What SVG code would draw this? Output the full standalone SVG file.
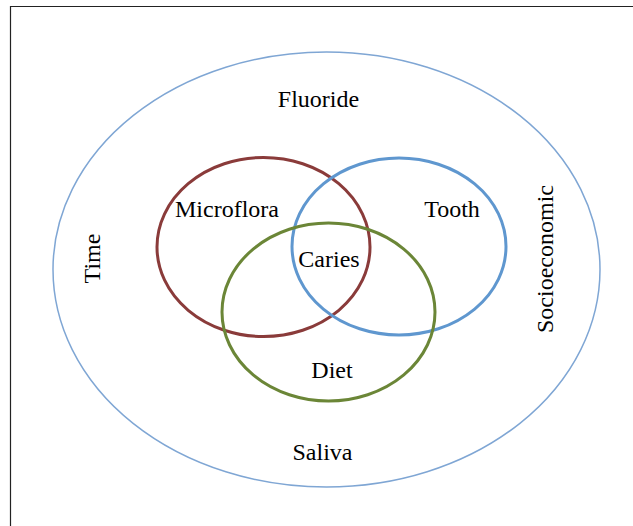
<svg xmlns="http://www.w3.org/2000/svg" width="633" height="526" viewBox="0 0 633 526">
<style>
.lbl{font-family:"Liberation Serif","Times New Roman",serif;font-size:24px;fill:#000;text-anchor:middle}
.ring{fill:none;stroke-width:3}
</style>
<rect width="633" height="526" fill="#fff"/>
<g id="frame" fill="none" stroke="#222" stroke-width="1.2">
<path d="M10.5,526 V6.5 H633"/>
</g>
<g id="outer">
<ellipse cx="326.5" cy="269.5" rx="273.5" ry="217.5" fill="none" stroke="#7fa6d4" stroke-width="1.5"/>
<text class="lbl" x="318.5" y="107">Fluoride</text>
<text class="lbl" x="322.5" y="460">Saliva</text>
<text class="lbl" transform="translate(100,258.5) rotate(-90)">Time</text>
<text class="lbl" transform="translate(553,259) rotate(-90)">Socioeconomic</text>
</g>
<g id="microflora">
<ellipse class="ring" cx="263.5" cy="247" rx="106.5" ry="89.5" stroke="#8a3b3a"/>
<text class="lbl" x="227" y="217">Microflora</text>
</g>
<g id="tooth">
<ellipse class="ring" cx="399" cy="246.5" rx="107" ry="88.5" stroke="#5f97cf"/>
<text class="lbl" x="452" y="217">Tooth</text>
</g>
<g id="diet">
<ellipse class="ring" cx="328.5" cy="312" rx="106.5" ry="89" stroke="#6b8637"/>
<text class="lbl" x="332" y="378">Diet</text>
</g>
<g id="caries">
<text class="lbl" x="329" y="267">Caries</text>
</g>
<g id="connectors"/>
</svg>
